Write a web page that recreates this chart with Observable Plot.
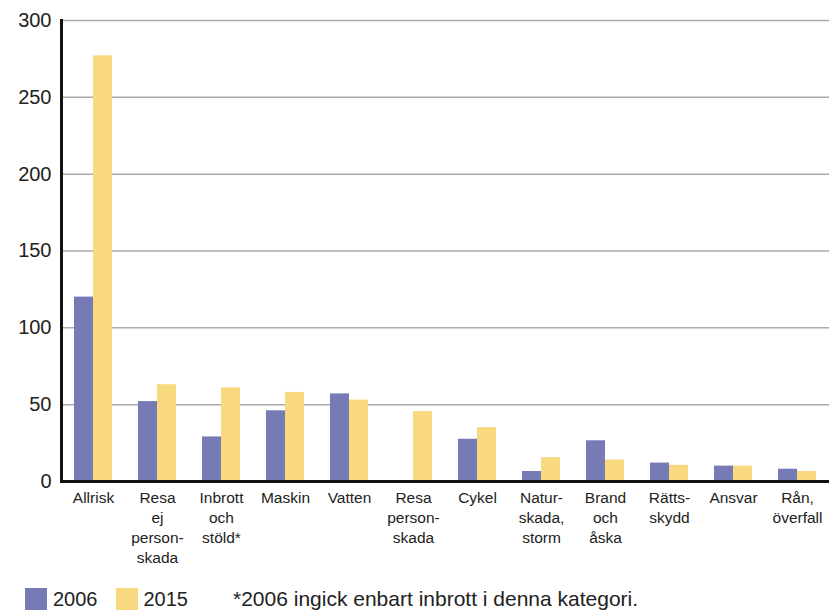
<!DOCTYPE html>
<html>
<head>
<meta charset="utf-8">
<script src="https://cdn.jsdelivr.net/npm/d3@7"></script>
<script src="https://cdn.jsdelivr.net/npm/@observablehq/plot@0.6"></script>
<style>
  body { margin: 0; background: #fff; font-family: "Liberation Sans", Arial, sans-serif; color: #222; }
  #legend { display: flex; align-items: center; height: 24px; padding: 7px 0 0 25px; font-size: 20px; line-height: 24px; }
  #legend .sw { width: 22px; height: 22px; margin-right: 6px; }
  #legend .item { display: flex; align-items: center; margin-right: 18px; }
  #legend .note { margin-left: 27px; font-size: 21px; }
</style>
</head>
<body>
<div id="chart"></div>
<div id="legend"></div>
<script>
// Insurance claim categories and the two survey years
const categories = ["Allrisk", "Resa ej personskada", "Inbrott och stöld", "Maskin", "Vatten", "Resa personskada", "Cykel", "Naturskada, storm", "Brand och åska", "Rättsskydd", "Ansvar", "Rån, överfall"];
const labels = ["Allrisk", "Resa\nej\nperson-\nskada", "Inbrott\noch\nstöld*", "Maskin", "Vatten", "Resa\nperson-\nskada", "Cykel", "Natur-\nskada,\nstorm", "Brand\noch\nåska", "Rätts-\nskydd", "Ansvar", "Rån,\növerfall"];
const values2006 = [120, 52, 29, 46, 57, null, 27.5, 6.5, 26.5, 12, 10, 8];
const values2015 = [277, 63, 61, 58, 53, 45.5, 35, 15.5, 14, 10.5, 10, 6.5];
const years = ["2006", "2015"];
const colors = ["#767ab5", "#f8d97f"];
const yTicks = [0, 50, 100, 150, 200, 250, 300];
const footnote = "*2006 ingick enbart inbrott i denna kategori.";

const rows = categories.flatMap((c, i) => [
  {category: c, year: years[0], value: values2006[i]},
  {category: c, year: years[1], value: values2015[i]}
]).filter(d => d.value != null);

const labelRows = categories.map((c, i) => ({category: c, label: labels[i]}));

const chart = Plot.plot({
  width: 831,
  height: 580,
  marginTop: 20,
  marginLeft: 58,
  marginRight: 0,
  marginBottom: 99,
  style: {fontFamily: "'Liberation Sans', Arial, sans-serif", background: "white", color: "#222", overflow: "visible"},
  fx: {domain: categories, padding: 0, axis: null, label: null},
  x: {domain: years, paddingInner: 0, paddingOuter: 0.64, axis: null, label: null},
  y: {domain: [0, 300], axis: null, label: null},
  color: {domain: years, range: colors},
  marks: [
    // horizontal gridlines
    Plot.ruleY(yTicks.filter(t => t > 0), {stroke: "#aaa", strokeWidth: 1.5}),
    // grouped bars
    Plot.barY(rows, {fx: "category", x: "year", y: "value", fill: "year"}),
    // baseline and left axis line
    Plot.ruleY([0], {stroke: "#111", strokeWidth: 3}),
    Plot.frame({anchor: "left", facetAnchor: "left", stroke: "#111", strokeWidth: 3}),
    Plot.axisY({ticks: yTicks, tickSize: 0, tickPadding: 10, fontSize: 20, fill: "#222", label: null}),
    // category labels under each group
    Plot.text(labelRows, {fx: "category", text: "label", frameAnchor: "bottom", lineAnchor: "top", dy: 7, fontSize: 15.5, lineHeight: 1.29, fill: "#222"})
  ]
});
document.getElementById("chart").append(chart);

// legend with footnote
const legend = document.getElementById("legend");
years.forEach((y, i) => {
  const item = document.createElement("div");
  item.className = "item";
  const sw = document.createElement("div");
  sw.className = "sw";
  sw.style.background = colors[i];
  const t = document.createElement("span");
  t.textContent = y;
  item.append(sw, t);
  legend.append(item);
});
const note = document.createElement("span");
note.className = "note";
note.textContent = footnote;
legend.append(note);
</script>
</body>
</html>
